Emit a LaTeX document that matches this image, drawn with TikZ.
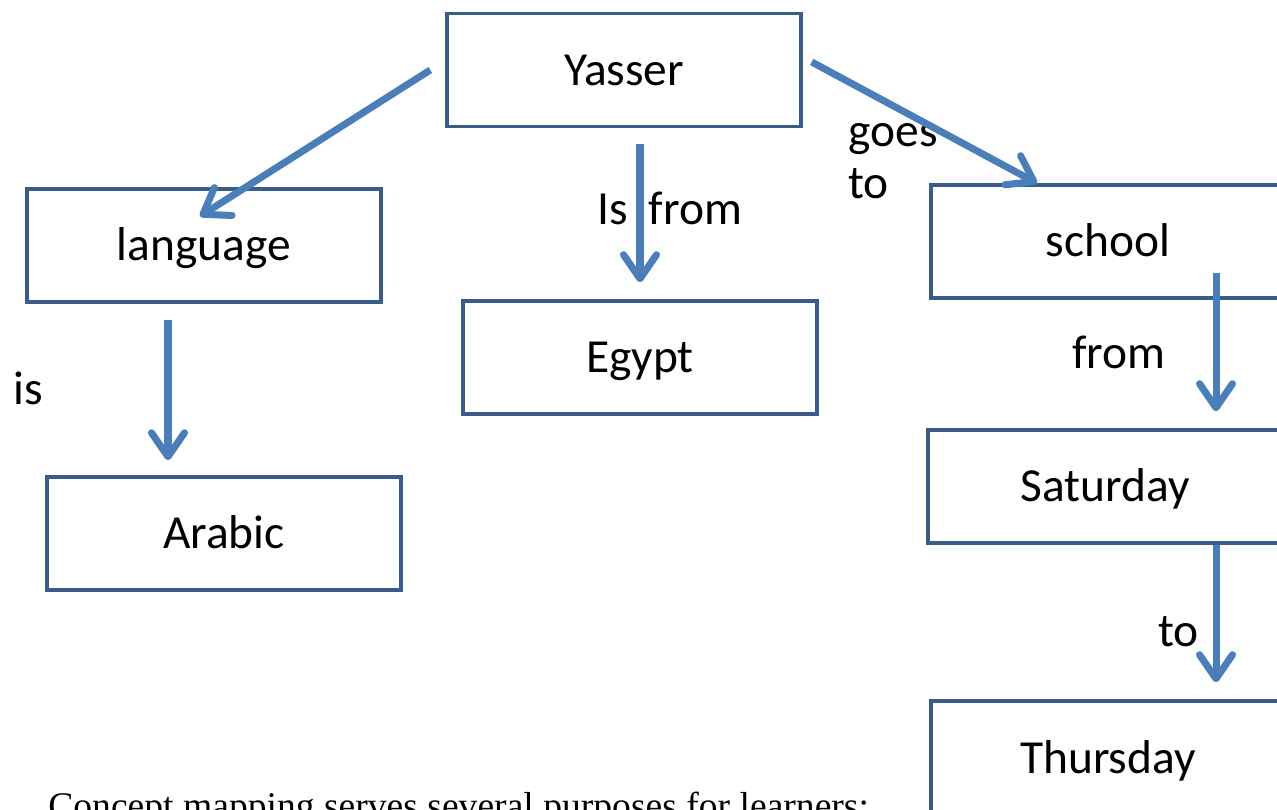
\documentclass[tikz,border=0pt]{standalone}
\usepackage{fontspec}
\usepackage{xcolor}
\setmainfont{Carlito}
\newfontfamily\bodyserif{Liberation Serif}
\usetikzlibrary{arrows.meta}

\definecolor{boxline}{HTML}{385D8A}
\definecolor{arrowline}{HTML}{4A7EBB}

\begin{document}
\begin{tikzpicture}[x=0.02cm, y=-0.02cm,
        >={Straight Barb[round,length=0.48cm,width=0.66cm]},
        concept/.style={draw=boxline, line width=2pt, minimum width=7.08cm, minimum height=2.26cm, text height=0.7cm, text depth=0.08cm, font=\fontsize{27}{32}\selectfont},
        link/.style={->, draw=arrowline, line width=4pt},
        linklabel/.style={anchor=base west, inner sep=0pt, align=left, font=\fontsize{27}{30}\selectfont}]

        \useasboundingbox (0,0) rectangle (1277,810);
        \clip (0,0) rectangle (1277,810);

        \node[concept] at (624,70) (yasser) {Yasser};
        \node[concept] at (204,245.5) (language) {language};
        \node[concept] at (640,357.5) (egypt) {Egypt};
        \node[concept] at (224,533.5) (arabic) {Arabic};
        \node[concept] at (1108,241.5) (school) {school};
        \node[concept] at (1105,486.5) (saturday) {Saturday};
        \node[concept] at (1108,757.5) (thursday) {Thursday};

        \node[linklabel] at (13,405) (lblis) {is};
        \node[linklabel] at (597,225) (lblisfrom) {Is\hspace{0.42cm}from};
        \node[linklabel] at (848,199) (lblgoes) {goes\\to};
        \node[linklabel] at (1072,369) (lblfrom) {from};
        \node[linklabel] at (1158,646) (lblto) {to};

        \draw[link] ([shift={(-15,0)}]yasser.west) -- ([shift={(-4,29)}]language.north);
        \draw[link] ([shift={(16,16)}]yasser.south) -- ([shift={(0,-17)}]egypt.north);
        \draw[link] ([shift={(9,-8)}]yasser.east) -- ([shift={(-71,0)}]school.north);
        \draw[link] ([shift={(-36,16)}]language.south) -- ([shift={(-56,-15)}]arabic.north);
        \draw[link] ([shift={(108,-27)}]school.south) -- ([shift={(111,-17)}]saturday.north);
        \draw[link] ([shift={(111,0)}]saturday.south) -- ([shift={(108,-17)}]thursday.north);

        \node[anchor=base west, inner sep=0pt, font=\bodyserif\fontsize{21.4}{25}\selectfont] at (48,818) (caption) {Concept mapping serves several purposes for learners:};

    \end{tikzpicture}
\end{document}
